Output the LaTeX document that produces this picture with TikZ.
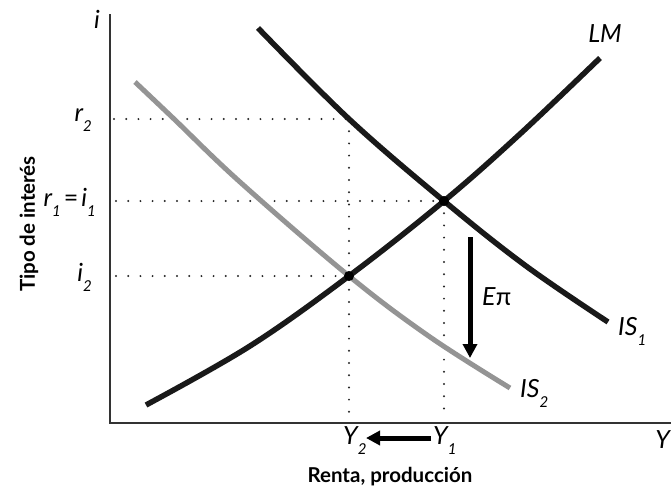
\documentclass[tikz,border=0pt]{standalone}
\usepackage{fontspec}
\setmainfont{Lato}
\usetikzlibrary{arrows.meta,calc}
\newcommand\sbs[1]{\raisebox{-0.4em}{\fontsize{15}{15}\selectfont #1}}
\begin{document}
\begin{tikzpicture}[x=1pt,y=-1pt,
  axis/.style={line width=1.3pt,draw=black!80},
  curve/.style={line width=5.5pt,draw=black!90},
  graycurve/.style={line width=5pt,draw=black!42},
  dots/.style={line width=2.2pt,line cap=round,dash pattern=on 0pt off 12.2pt,draw=black!85},
  lbl/.style={font=\fontsize{25}{29}\selectfont\itshape,inner sep=0pt},
  ttl/.style={font=\fontsize{20.5}{24}\selectfont\bfseries,inner sep=0pt},
  bigarrow/.style={line width=5pt,-{Triangle[width=14pt,length=14pt]}}]
\useasboundingbox (0,0) rectangle (672,493);
% axes
\coordinate (O) at (110,423);
\coordinate (ytop) at (110,14);
\coordinate (xend) at (671,423);
\draw[axis] (ytop) -- (O) -- (xend);
% key points
\coordinate (E1) at (444,201);
\coordinate (E2) at (349,276);
\coordinate (R2) at (349,119);
\coordinate (yr2) at (114,119);
\coordinate (yr1) at (116,201);
\coordinate (yi2) at (116,276);
\coordinate (x2) at (349,419);
\coordinate (x1) at (444,419);
% dotted guides
\draw[dots] (yr2) -- (R2);
\draw[dots] (R2) -- (x2);
\draw[dots] (yr1) -- (E1);
\draw[dots] (E1) -- (x1);
\draw[dots] (yi2) -- (E2);
% IS2 gray
\draw[graycurve] plot[smooth,tension=0.6] coordinates {(135,82) (173,118) (240,182) (349,276) (430,337) (510,388)};
% IS1
\draw[curve] plot[smooth,tension=0.6] coordinates {(258,28) (349,119) (444,201) (526,266) (608,322)};
% LM
\draw[curve] plot[smooth,tension=0.6] coordinates {(146,405) (250,346) (349,276) (444,201) (520,134) (600,58)};
% intersection dots
\fill[black] (E1) circle (5pt);
\fill[black] (E2) circle (5pt);
% arrows
\coordinate (ea) at (470,237);
\coordinate (eb) at (470,358);
\draw[bigarrow] (ea) -- (eb);
\node[lbl,anchor=west] (epi) at (482,297) {E\textup{π}};
% axis labels
\node[lbl,anchor=east] (ilab) at (100,19) {i};
\node[lbl,anchor=east] (r2lab) at (92,120) {r\sbs{2}};
\node[lbl,anchor=east] (r1lab) at (96,202) {r\sbs{1}\hspace{3pt}\textup{=}\hspace{3pt}i\sbs{1}};
\node[lbl,anchor=east] (i2lab) at (92,277) {i\sbs{2}};
\node[lbl] (LMlab) at (605,34) {LM};
\node[lbl,anchor=west] (IS1lab) at (618,331) {IS\sbs{1}};
\node[lbl,anchor=west] (IS2lab) at (520,393) {IS\sbs{2}};
\node[lbl,anchor=west] (Y2lab) at (343,441) {Y\sbs{2}};
\node[lbl,anchor=west] (Y1lab) at (433,441) {Y\sbs{1}};
\node[lbl,anchor=east] (Ylab) at (670,440) {Y};
\coordinate (ya) at (431,438);
\coordinate (yb) at (366,438);
\draw[bigarrow] (ya) -- (yb);
\node[ttl] (xtitle) at (390,477) {Renta, producción};
\node[ttl,rotate=90] (ytitle) at (29,224) {Tipo de interés};
\end{tikzpicture}
\end{document}
